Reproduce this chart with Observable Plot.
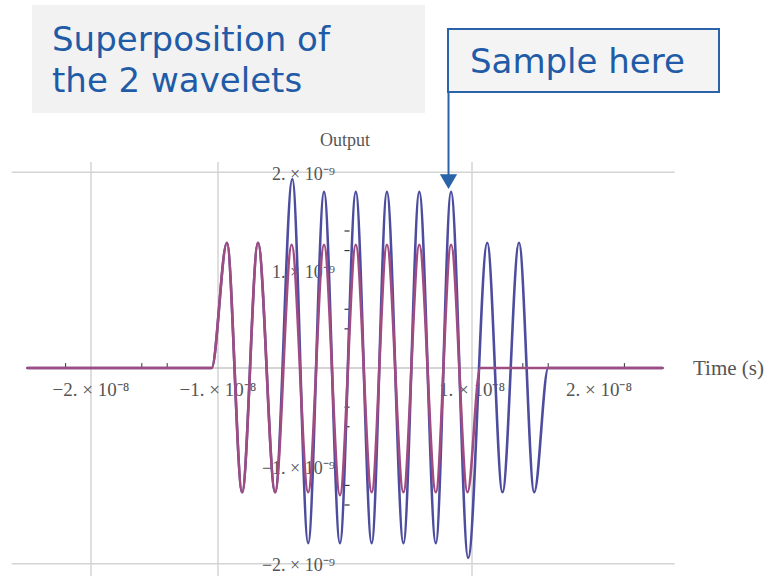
<!DOCTYPE html>
<html>
<head>
<meta charset="utf-8">
<script src="https://cdn.jsdelivr.net/npm/d3@7"></script>
<script src="https://cdn.jsdelivr.net/npm/@observablehq/plot@0.6"></script>
<style>
  body { margin: 0; background: #fff; }
  #wrap { position: relative; width: 784px; height: 576px; overflow: hidden; }
  #chart { position: absolute; left: 0; top: 0; }
  .note { position: absolute; color: #1f5ba6; font-family: "DejaVu Sans", sans-serif; font-size: 34px; line-height: 41px; box-sizing: border-box; white-space: nowrap; }
  #title { left: 32px; top: 5px; width: 393px; height: 108px; background: #f2f2f2; padding: 14px 0 0 20px; }
  #sample { left: 447px; top: 28px; width: 273px; height: 65px; background: #f4f4f4; border: 2px solid #2a63a8; padding: 11px 0 0 21px; }
</style>
</head>
<body>
<div id="wrap">
  <div id="chart"></div>
  <div class="note" id="title">Superposition of<br>the 2 wavelets</div>
  <div class="note" id="sample">Sample here</div>
</div>
<script>
// ---- data (time in s, output values) ----
const purpleT = [-2.5e-8, -1.05e-8, -0.93e-8, -0.81e-8, -0.685e-8, -0.55e-8, -0.42e-8, -0.29e-8, -0.165e-8, -0.04e-8, 0.085e-8, 0.21e-8, 0.33e-8, 0.46e-8, 0.585e-8, 0.715e-8, 0.835e-8, 0.965e-8, 1.065e-8, 2.5e-8];
const purpleV = [0, 0, 1.28e-9, -1.27e-9, 1.28e-9, -1.27e-9, 1.26e-9, -1.27e-9, 1.26e-9, -1.30e-9, 1.26e-9, -1.27e-9, 1.26e-9, -1.27e-9, 1.26e-9, -1.27e-9, 1.26e-9, -1.27e-9, 0, 0];

const blueT = [-2.5e-8, -1.05e-8, -0.93e-8, -0.81e-8, -0.685e-8, -0.55e-8, -0.415e-8, -0.29e-8, -0.165e-8, -0.04e-8, 0.085e-8, 0.21e-8, 0.33e-8, 0.46e-8, 0.585e-8, 0.715e-8, 0.835e-8, 0.97e-8, 1.12e-8, 1.24e-8, 1.37e-8, 1.49e-8, 1.6e-8, 2.5e-8];
const blueV = [0, 0, 1.28e-9, -1.27e-9, 1.28e-9, -1.27e-9, 1.93e-9, -1.79e-9, 1.80e-9, -1.79e-9, 1.80e-9, -1.79e-9, 1.80e-9, -1.79e-9, 1.80e-9, -1.79e-9, 1.80e-9, -1.94e-9, 1.28e-9, -1.27e-9, 1.28e-9, -1.27e-9, 0, 0];

const xTickValues = [-2e-8, -1e-8, 1e-8, 2e-8];
const xTickLabels = ["\u22122. \u00d7 10\u207b\u2078", "\u22121. \u00d7 10\u207b\u2078", "1. \u00d7 10\u207b\u2078", "2. \u00d7 10\u207b\u2078"];
const yTickValues = [2e-9, 1e-9, -1e-9, -2e-9];
const yTickLabels = ["2. \u00d7 10\u207b\u2079", "1. \u00d7 10\u207b\u2079", "\u22121. \u00d7 10\u207b\u2079", "\u22122. \u00d7 10\u207b\u2079"];
const xMinorTicks = [-2.2e-8, -1.6e-8, -1.4e-8, 1.4e-8, 1.6e-8, 2.2e-8];
const yMinorTicks = [1.4e-9, 1.2e-9, 0.6e-9, 0.4e-9, -0.4e-9, -0.6e-9, -1.2e-9, -1.4e-9];
const gridX = [-2e-8, -1e-8, 1e-8];
const gridY = [2e-9, -2e-9];
const sampleTime = [0.815e-8];

const blue = "#4d4d9f";
const purple = "#a04c82";
const gridColor = "#d4d4d4";
const labelColor = "#555";
const noteBlue = "#2a63a8";

const chart = Plot.plot({
  width: 784,
  height: 576,
  marginLeft: 27,
  marginRight: 122,
  marginTop: 162,
  marginBottom: 3,
  x: {domain: [-2.5e-8, 2.5e-8], axis: null},
  y: {domain: [-2.1e-9, 2.1e-9], axis: null},
  style: {background: "transparent", overflow: "visible"},
  marks: [
    Plot.ruleY(gridY, {y: d => d, x1: -2.62e-8, x2: 2.6e-8, stroke: gridColor, strokeWidth: 1.5}),
    Plot.ruleX(gridX, {x: d => d, y1: 2.1e-9, y2: -2.15e-9, stroke: gridColor, strokeWidth: 1.5}),
    Plot.ruleY([0], {x1: -2.5e-8, x2: 2.5e-8, stroke: "#aaa", strokeWidth: 1}),
    Plot.text(xTickValues, {x: d => d, y: 0, text: xTickLabels, dy: 22, fontSize: 19, fontFamily: "Liberation Serif, serif", fill: labelColor}),
    Plot.text(yTickValues, {x: 0, y: d => d, text: yTickLabels, dx: -10, dy: 2, textAnchor: "end", fontSize: 18, fontFamily: "Liberation Serif, serif", fill: labelColor}),
    Plot.ruleX(xMinorTicks, {x: d => d, y1: 0, y2: 0.045e-9, stroke: "#333", strokeWidth: 1}),
    Plot.ruleY(yMinorTicks, {y: d => d, x1: 0, x2: 0.04e-8, stroke: "#333", strokeWidth: 1.2}),
    Plot.text(["Output"], {x: 0, y: 2.33e-9, text: d => d, fontSize: 18, fontFamily: "Liberation Serif, serif", fill: labelColor}),
    Plot.text(["Time (s)"], {x: 2.74e-8, y: 0, text: d => d, textAnchor: "start", fontSize: 21, fontFamily: "Liberation Serif, serif", fill: labelColor}),
    Plot.line(blueT, {x: blueT, y: blueV, curve: "monotone-x", stroke: blue, strokeWidth: 2.6}),
    Plot.line(purpleT, {x: purpleT, y: purpleV, curve: "monotone-x", stroke: purple, strokeWidth: 2.6}),
    Plot.ruleX(sampleTime, {x: d => d, y1: 2.81e-9, y2: 1.95e-9, stroke: noteBlue, strokeWidth: 2}),
    Plot.dot(sampleTime, {x: d => d, y: 1.93e-9, symbol: "triangle", rotate: 180, r: 6.4, fill: noteBlue, stroke: "none"})
  ]
});
document.getElementById("chart").appendChild(chart);
</script>
</body>
</html>
